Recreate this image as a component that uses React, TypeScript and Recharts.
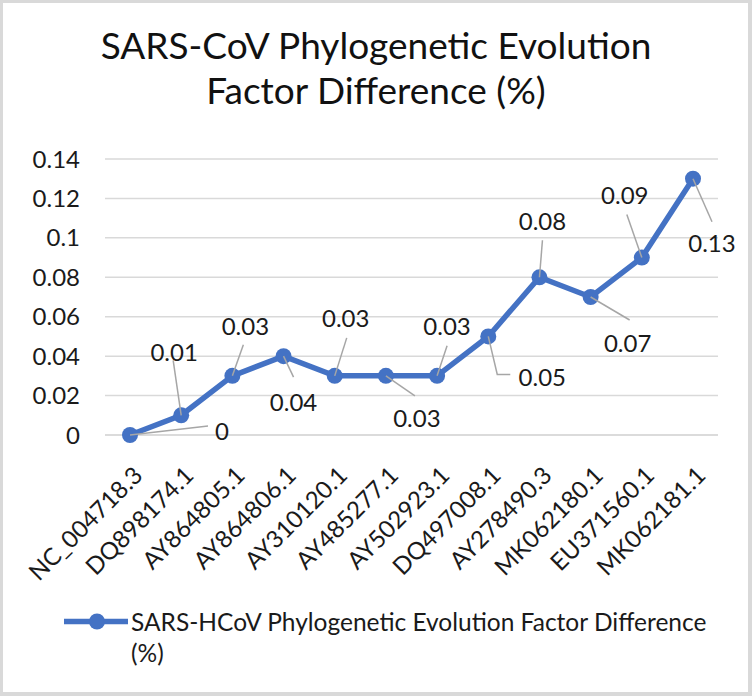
import React from 'react';
import { LineChart, Line, XAxis, YAxis, CartesianGrid, Legend } from 'recharts';

const categories = [
    'NC_004718.3', 'DQ898174.1', 'AY864805.1', 'AY864806.1', 'AY310120.1', 'AY485277.1',
    'AY502923.1', 'DQ497008.1', 'AY278490.3', 'MK062180.1', 'EU371560.1', 'MK062181.1',
];
const values = [0, 0.01, 0.03, 0.04, 0.03, 0.03, 0.03, 0.05, 0.08, 0.07, 0.09, 0.13];
const yTicks = [0, 0.02, 0.04, 0.06, 0.08, 0.1, 0.12, 0.14];
const seriesName = 'SARS-HCoV Phylogenetic Evolution Factor Difference (%)';
const titleLines = ['SARS-CoV Phylogenetic Evolution', 'Factor Difference (%)'];

const data = categories.map((name, i) => ({ name, value: values[i] }));

// where each data label sits relative to its point (Excel-style leader lines)
const labelPlacement = [
    { tx: 92, ty: -5, leader: [[78, -9]] },
    { tx: -7, ty: -64, leader: [[-8, -55]] },
    { tx: 13, ty: -50, leader: [[11, -31]] },
    { tx: 10, ty: 45, leader: [[10, 21]] },
    { tx: 11, ty: -58, leader: [[12, -38]] },
    { tx: 31, ty: 42, leader: [[29, 20]] },
    { tx: 10, ty: -50, leader: [[10, -30]] },
    { tx: 54, ty: 40, leader: [[9, 38], [22, 38]] },
    { tx: 3, ty: -57, leader: [[3, -37]] },
    { tx: 37, ty: 45, leader: [[39, 23]] },
    { tx: -17, ty: -63, leader: [[-15, -43]] },
    { tx: 19, ty: 64, leader: [[19, 43]] },
];

const FONT = 'Lato, Calibri, sans-serif';
const BLUE = '#4472C4';
const GRID = '#d9d9d9';
const INK = '#1a1a1a';

const DataLabel = (props: any) => {
    const { x, y, index, value } = props;
    const p = labelPlacement[index];
    if (!p) return null;
    const pts = [[x, y], ...p.leader.map(([dx, dy]) => [x + dx, y + dy])];
    return (
        <g>
            <polyline points={pts.map((q) => q.join(',')).join(' ')} fill="none" stroke="#a6a6a6" strokeWidth={1.5} />
            <text x={x + p.tx} y={y + p.ty} textAnchor="middle" dominantBaseline="central" fontSize={24} fontFamily={FONT} fill={INK}>
                {value}
            </text>
        </g>
    );
};

const XTick = (props: any) => {
    const { x, y, payload } = props;
    return (
        <g transform={`translate(${x},${y})`}>
            <text x={0} y={0} transform="translate(14, 42) rotate(-45)" textAnchor="end" fontSize={24} fontFamily={FONT} fill={INK}>
                {payload.value}
            </text>
        </g>
    );
};

const LegendContent = () => (
    <div style={{ display: 'flex', alignItems: 'flex-start', fontFamily: FONT }}>
        <svg width={67} height={31} style={{ flex: 'none' }}>
            <line x1={0} y1={15.5} x2={64} y2={15.5} stroke={BLUE} strokeWidth={5.5} />
            <circle cx={33} cy={15.5} r={8} fill={BLUE} />
        </svg>
        <div style={{ width: 590, fontSize: 24.5, lineHeight: '31px', color: INK }}>{seriesName}</div>
    </div>
);

export default function App() {
    return (
        <div style={{ position: 'absolute', left: 0, top: 0, width: 752, height: 696, background: '#fff' }}>
            <div
                style={{
                    position: 'absolute', left: 0, top: 22, width: 752, textAlign: 'center',
                    fontFamily: FONT, fontSize: 37, lineHeight: '45px', color: '#111',
                }}
            >
                {titleLines.map((t) => <div key={t}>{t}</div>)}
            </div>
            <LineChart width={752} height={696} data={data} margin={{ top: 159, right: 34, left: 0, bottom: 99 }}>
                <CartesianGrid vertical={false} stroke={GRID} strokeWidth={1.5} />
                <XAxis
                    dataKey="name"
                    height={100}
                    interval={0}
                    padding={{ left: 25, right: 25 }}
                    axisLine={{ stroke: GRID, strokeWidth: 1.5 }}
                    tickLine={false}
                    tickSize={0}
                    tickMargin={0}
                    tick={<XTick />}
                />
                <YAxis
                    width={105}
                    domain={[0, 0.14]}
                    ticks={yTicks}
                    axisLine={false}
                    tickLine={false}
                    tickSize={0}
                    tickMargin={25}
                    tick={{ fontSize: 24, fontFamily: FONT, fill: INK }}
                />
                <Legend
                    verticalAlign="bottom"
                    content={<LegendContent />}
                    wrapperStyle={{ position: 'absolute', left: 64, top: 606, width: 680, bottom: 'auto' }}
                />
                <Line
                    dataKey="value"
                    name={seriesName}
                    stroke={BLUE}
                    strokeWidth={5.5}
                    dot={{ r: 8, fill: BLUE, stroke: 'none' }}
                    activeDot={false}
                    label={(p: any) => <DataLabel {...p} />}
                    isAnimationActive={false}
                />
            </LineChart>
            <div
                style={{
                    position: 'absolute', left: 0, top: 0, width: 752, height: 696, boxSizing: 'border-box',
                    border: '3px solid #d9d9d9', borderRightWidth: 4, borderBottomWidth: 4, pointerEvents: 'none',
                }}
            />
        </div>
    );
}
